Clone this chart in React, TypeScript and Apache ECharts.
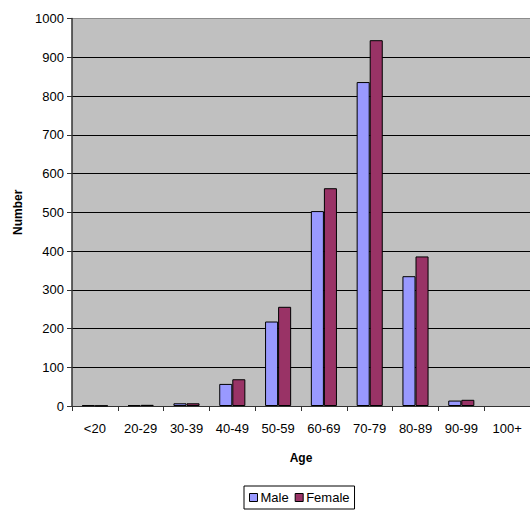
import React, { useEffect, useRef } from "react";
import * as echarts from "echarts";

const categories = ["<20", "20-29", "30-39", "40-49", "50-59", "60-69", "70-79", "80-89", "90-99", "100+"];
const maleValues = [2, 2, 7, 57, 218, 503, 836, 335, 14, 0];
const femaleValues = [1, 3, 7, 69, 256, 562, 944, 386, 16, 0];
const yTicks = [0, 100, 200, 300, 400, 500, 600, 700, 800, 900, 1000];

const FONT = "Liberation Sans, Arial, sans-serif";

const toData = (vals: number[]) =>
  vals.map((v) => (v === 0 ? { value: v, itemStyle: { borderWidth: 0 } } : v));

export default function App() {
  const ref = useRef<HTMLDivElement>(null);
  useEffect(() => {
    if (!ref.current) return;
    const chart = echarts.init(ref.current, undefined, { renderer: "svg" });
    const splitColors = yTicks.map((v, i) => (i === yTicks.length - 1 ? "#8c8c8c" : "#000000"));
    chart.setOption({
      animation: false,
      textStyle: { fontFamily: FONT },
      grid: {
        left: 72,
        right: -3,
        top: 18.5,
        bottom: 110,
        show: true,
        backgroundColor: "#C0C0C0",
        borderWidth: 0,
      },
      legend: {
        bottom: 7,
        left: 244,
        itemWidth: 8,
        itemHeight: 8,
        itemGap: 6,
        icon: "rect",
        padding: [5, 5, 5, 5],
        borderColor: "#000",
        borderWidth: 1,
        textStyle: { fontFamily: FONT, fontSize: 13, color: "#000", padding: [0, 0, 0, -2] },
        data: [
          { name: "Male", itemStyle: { color: "#9999FF", borderColor: "#000", borderWidth: 1 } },
          { name: "Female", itemStyle: { color: "#993366", borderColor: "#000", borderWidth: 1 } },
        ],
      },
      xAxis: {
        type: "category",
        data: categories,
        name: "Age",
        nameLocation: "middle",
        nameGap: 46,
        nameTextStyle: { fontFamily: FONT, fontSize: 12, fontWeight: "bold", color: "#000" },
        axisLine: { lineStyle: { color: "#333", width: 1 } },
        axisTick: { show: true, length: 5, lineStyle: { color: "#333" } },
        axisLabel: { fontFamily: FONT, fontSize: 13, color: "#000", margin: 16, interval: 0 },
      },
      yAxis: {
        type: "value",
        min: 0,
        max: 1000,
        interval: 100,
        name: "Number",
        nameLocation: "middle",
        nameGap: 45,
        nameTextStyle: { fontFamily: FONT, fontSize: 12, fontWeight: "bold", color: "#000" },
        axisLine: { show: true, lineStyle: { color: "#333", width: 1.5 } },
        axisTick: { show: true, length: 5, lineStyle: { color: "#333" } },
        axisLabel: { fontFamily: FONT, fontSize: 13, color: "#000", margin: 8, formatter: (v: number) => String(v) },
        splitLine: { show: true, lineStyle: { color: splitColors, width: 1 } },
      },
      series: [
        {
          name: "Male",
          type: "bar",
          data: toData(maleValues),
          barGap: "0%",
          barCategoryGap: "43%",
          itemStyle: { color: "#9999FF", borderColor: "#000", borderWidth: 1 },
        },
        {
          name: "Female",
          type: "bar",
          data: toData(femaleValues),
          barGap: "0%",
          barCategoryGap: "43%",
          itemStyle: { color: "#993366", borderColor: "#000", borderWidth: 1 },
        },
      ],
    });
    return () => chart.dispose();
  }, []);
  return <div ref={ref} style={{ width: 530, height: 516, position: "absolute", left: 0, top: 0 }} />;
}
